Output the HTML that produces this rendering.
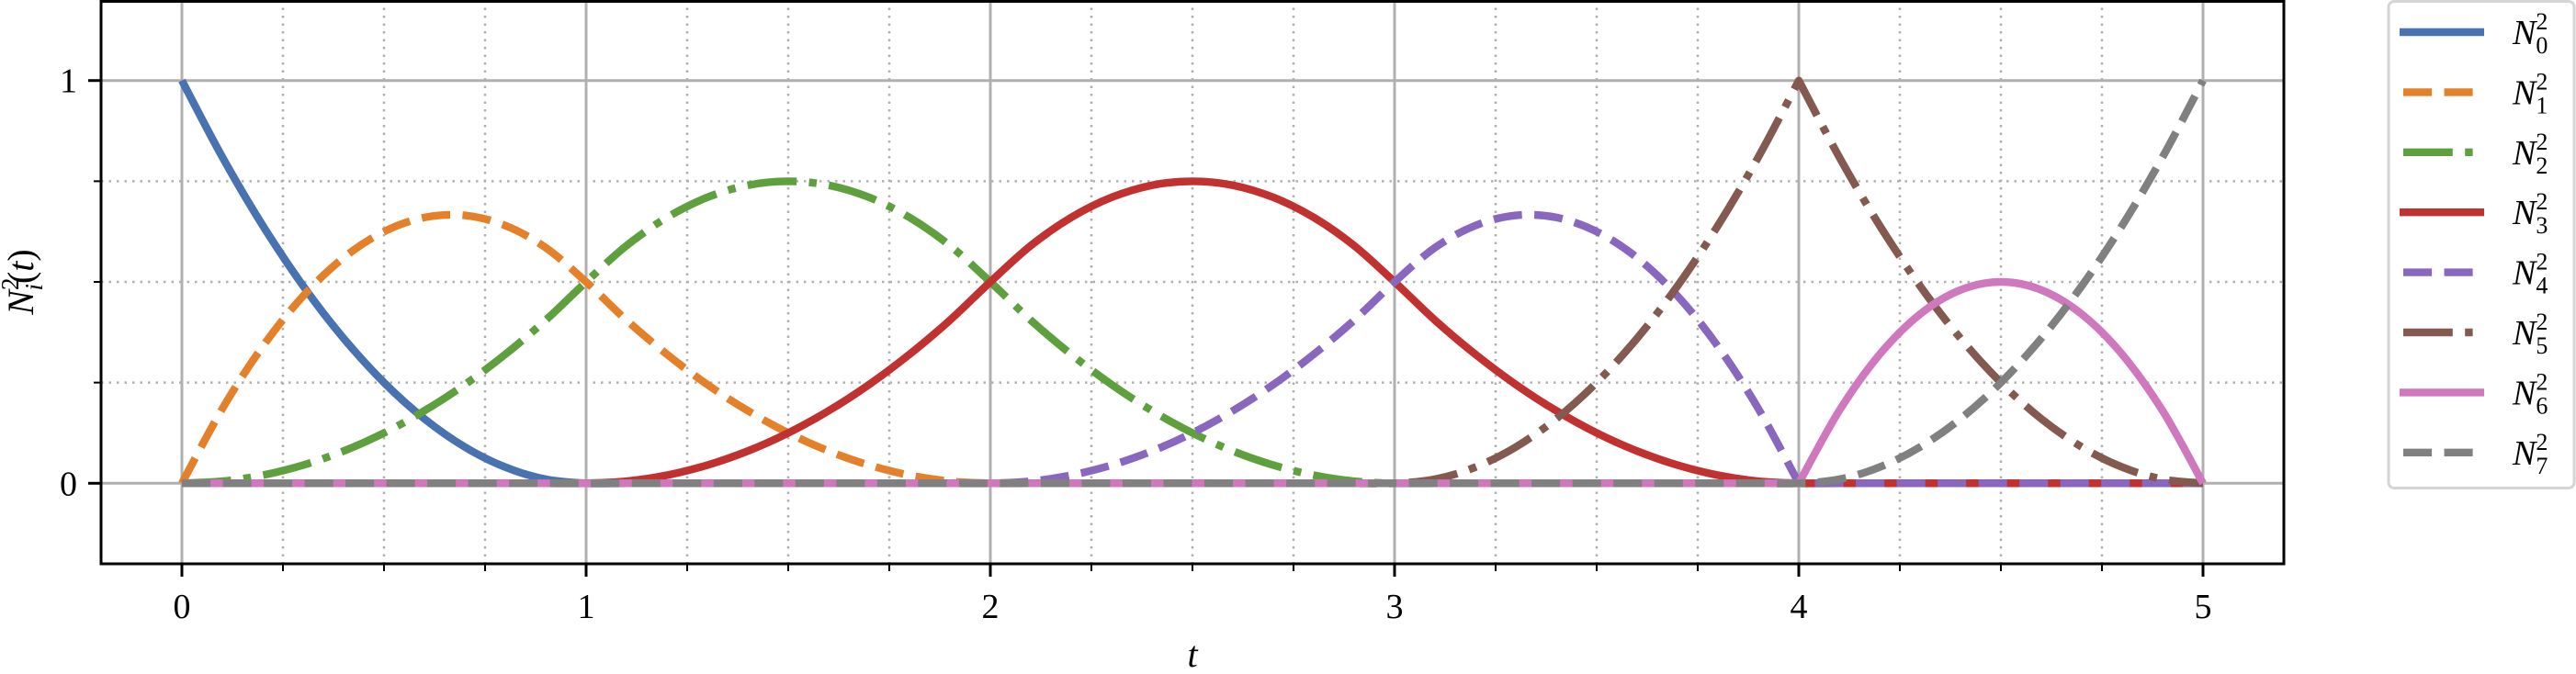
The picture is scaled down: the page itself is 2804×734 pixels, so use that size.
<!DOCTYPE html>
<html><head><meta charset="utf-8"><style>
html,body{margin:0;padding:0;background:#fff;}
svg{display:block;}
text{font-family:"Liberation Serif",serif;fill:#000;}
</style></head><body>
<svg id="chart" width="2804" height="734" xmlns="http://www.w3.org/2000/svg">
<g id="grid"></g>
<g id="series"></g>
<g id="axes"></g>
<g id="legend"></g>
</svg>
<script>
const tValues=[0,0.1,0.2,0.3,0.4,0.5,0.6,0.7,0.8,0.9,1,1.1,1.2,1.3,1.4,1.5,1.6,1.7,1.8,1.9,2,2.1,2.2,2.3,2.4,2.5,2.6,2.7,2.8,2.9,3,3.1,3.2,3.3,3.4,3.5,3.6,3.7,3.8,3.9,4,4.1,4.2,4.3,4.4,4.5,4.6,4.7,4.8,4.9,5];
const Z10=[0,0,0,0,0,0,0,0,0,0];
const n0=[1,.81,.64,.49,.36,.25,.16,.09,.04,.01,0].concat(Z10,Z10,Z10,Z10);
const n1=[0,.185,.34,.465,.56,.625,.66,.665,.64,.585,.5,.405,.32,.245,.18,.125,.08,.045,.02,.005,0].concat(Z10,Z10,Z10);
const n2=[0,.005,.02,.045,.08,.125,.18,.245,.32,.405,.5,.59,.66,.71,.74,.75,.74,.71,.66,.59,.5,.405,.32,.245,.18,.125,.08,.045,.02,.005,0].concat(Z10,Z10);
const n3=[0].concat(Z10,[.005,.02,.045,.08,.125,.18,.245,.32,.405,.5,.59,.66,.71,.74,.75,.74,.71,.66,.59,.5,.405,.32,.245,.18,.125,.08,.045,.02,.005,0],Z10);
const n4=[0].concat(Z10,Z10,[.005,.02,.045,.08,.125,.18,.245,.32,.405,.5,.585,.64,.665,.66,.625,.56,.465,.34,.185,0],Z10);
const n5=[0].concat(Z10,Z10,Z10,[.01,.04,.09,.16,.25,.36,.49,.64,.81,1,.81,.64,.49,.36,.25,.16,.09,.04,.01,0]);
const n6=[0].concat(Z10,Z10,Z10,Z10,[.18,.32,.42,.48,.5,.48,.42,.32,.18,0]);
const n7=[0].concat(Z10,Z10,Z10,Z10,[.01,.04,.09,.16,.25,.36,.49,.64,.81,1]);
const seriesNames=["N0","N1","N2","N3","N4","N5","N6","N7"];
const xTicks=[0,1,2,3,4,5];
const yTicks=[0,1];

const NS="http://www.w3.org/2000/svg";
const X0=110,X1=2486,Y0=0,Y1=614;
const xmin=-0.2,xmax=5.2,ymin=-0.2,ymax=1.2;
const sx=v=>X0+(v-xmin)/(xmax-xmin)*(X1-X0);
const sy=v=>Y1-(v-ymin)/(ymax-ymin)*(Y1-Y0);
function mk(tag,attrs,parent){const e=document.createElementNS(NS,tag);for(const k in attrs)e.setAttribute(k,attrs[k]);parent.appendChild(e);return e;}
const grid=document.getElementById('grid'),axes=document.getElementById('axes'),ser=document.getElementById('series'),leg=document.getElementById('legend');

for(let i=0;i<=20;i++){const v=i*0.25;if(i%4===0)continue;
  const g=mk('line',{x1:sx(v),x2:sx(v),y1:Y0,y2:Y1,stroke:'#b0b0b0','stroke-width':2.5,'stroke-dasharray':'2.5,6'},grid);
  
  const t=mk('line',{x1:sx(v),x2:sx(v),y1:Y1,y2:Y1+8,stroke:'#000','stroke-width':2},axes);
  }
for(let i=1;i<4;i++){const v=i*0.25;
  const g=mk('line',{x1:X0,x2:X1,y1:sy(v),y2:sy(v),stroke:'#b0b0b0','stroke-width':2.5,'stroke-dasharray':'2.5,6'},grid);
  
  const t=mk('line',{x1:X0-8,x2:X0,y1:sy(v),y2:sy(v),stroke:'#000','stroke-width':2},axes);
  }
xTicks.forEach(v=>{
  const g=mk('line',{x1:sx(v),x2:sx(v),y1:Y0,y2:Y1,stroke:'#b0b0b0','stroke-width':3},grid);
  
  const t=mk('line',{x1:sx(v),x2:sx(v),y1:Y1,y2:Y1+14,stroke:'#000','stroke-width':3},axes);
  
  const l=mk('text',{x:sx(v),y:673,'text-anchor':'middle','font-size':38},axes);l.textContent=v;
  });
yTicks.forEach(v=>{
  const g=mk('line',{x1:X0,x2:X1,y1:sy(v),y2:sy(v),stroke:'#b0b0b0','stroke-width':3},grid);
  
  const t=mk('line',{x1:X0-14,x2:X0,y1:sy(v),y2:sy(v),stroke:'#000','stroke-width':3},axes);
  
  const l=mk('text',{x:X0-26,y:sy(v)+13,'text-anchor':'end','font-size':38},axes);l.textContent=v;
  });
const frame=mk('rect',{x:X0,y:Y0+1.5,width:X1-X0,height:Y1-Y0-1.5,fill:'none',stroke:'#000','stroke-width':3},axes);


const xl=mk('text',{x:(X0+X1)/2,y:726,'text-anchor':'middle','font-size':40,'font-style':'italic'},axes);
xl.textContent='t';
const yl=mk('text',{x:0,y:0,'text-anchor':'middle','font-size':40,transform:'translate(36,307) rotate(-90)'},axes);
yl.innerHTML='<tspan font-style="italic">N</tspan><tspan font-size="27" dy="-16">2</tspan><tspan font-size="27" font-style="italic" dy="26" dx="-14">i</tspan><tspan dy="-10">(</tspan><tspan font-style="italic">t</tspan><tspan>)</tspan>';


const data=[n0,n1,n2,n3,n4,n5,n6,n7];
const colors=['#4872b0','#e5802a','#5fa03e','#c0312f','#8a67be','#84594f','#cf78bd','#808080'];
const LW=8.4;
const dashes=['',`${3.7*LW},${1.6*LW}`,`${6.4*LW},${1.6*LW},${LW},${1.6*LW}`,'',`${3.7*LW},${1.6*LW}`,`${6.4*LW},${1.6*LW},${LW},${1.6*LW}`,'',`${3.7*LW},${1.6*LW}`];

function smoothPath(arr){
  const P=arr.map((v,i)=>[sx(tValues[i]),sy(v)]);
  const n=P.length;
  const corner=i=>i===0||i===n-1||Math.abs(arr[i-1]-2*arr[i]+arr[i+1])>0.05;
  let d='M'+P[0][0].toFixed(1)+','+P[0][1].toFixed(1);
  for(let i=0;i<n-1;i++){
    const p1=P[i],p2=P[i+1];
    const p0=corner(i)?p1:P[i-1];
    const p3=corner(i+1)?p2:P[i+2];
    const c1=[p1[0]+(p2[0]-p0[0])/6,p1[1]+(p2[1]-p0[1])/6];
    const c2=[p2[0]-(p3[0]-p1[0])/6,p2[1]-(p3[1]-p1[1])/6];
    d+='C'+c1[0].toFixed(1)+','+c1[1].toFixed(1)+' '+c2[0].toFixed(1)+','+c2[1].toFixed(1)+' '+p2[0].toFixed(1)+','+p2[1].toFixed(1);
  }
  return d;
}
data.forEach((arr,k)=>{
  const p=mk('path',{d:smoothPath(arr),fill:'none',stroke:colors[k],'stroke-width':LW,'stroke-linejoin':'round'},ser);
  if(dashes[k])p.setAttribute('stroke-dasharray',dashes[k]);
  
  
});

const box=mk('rect',{x:2600,y:1.5,width:202,height:530,rx:6,fill:'#fff',stroke:'#d5d5d5','stroke-width':3},leg);

data.forEach((arr,k)=>{
  const y=35+k*65.4;
  const ln=mk('line',{x1:2612+(dashes[k]?4:0),x2:2704-(dashes[k]?4:0),y1:y,y2:y,stroke:colors[k],'stroke-width':LW},leg);
  if(dashes[k])ln.setAttribute('stroke-dasharray',dashes[k]);
  
  const tx=mk('text',{x:2735,y:y+13,'font-size':38},leg);
  tx.innerHTML='<tspan font-style="italic">N</tspan><tspan font-size="26" dy="-16">2</tspan><tspan font-size="26" dy="26" dx="-13">'+k+'</tspan>';
  
});
</script>
</body></html>
